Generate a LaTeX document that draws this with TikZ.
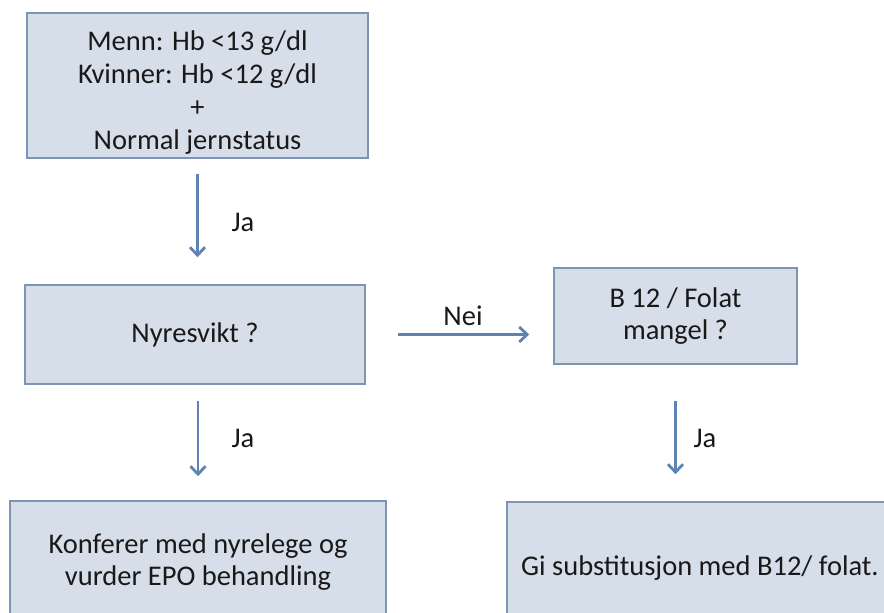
\documentclass[tikz,border=0pt]{standalone}
\usepackage{fontspec}
\setmainfont{Carlito}
\usetikzlibrary{arrows.meta}
\definecolor{boxfill}{RGB}{214,222,234}
\definecolor{boxline}{RGB}{125,148,180}
\definecolor{arrowcol}{RGB}{95,130,180}
\definecolor{txt}{RGB}{25,25,25}
\tikzset{
  flowbox/.style={draw=boxline, line width=1.5pt, fill=boxfill, rectangle, align=center,
    text=txt, font=\fontsize{28.5}{32}\selectfont, inner sep=0pt},
  boxtext/.style={align=center, text=txt, font=\fontsize{28.5}{33}\selectfont, inner sep=0pt},
  flowarrow/.style={draw=arrowcol, line width=2.6pt, -{Straight Barb[length=8pt,width=15pt,line width=2.8pt]}},
  lbl/.style={text=txt, font=\fontsize{28.5}{32}\selectfont, inner sep=0pt}
}
\begin{document}
\begin{tikzpicture}[x=1pt,y=-1pt]
\useasboundingbox (0,0) rectangle (884,613);
\fill[white] (0,0) rectangle (884,613);
\clip (0,0) rectangle (884,613);
\node[flowbox, minimum width=341pt, minimum height=145pt] (top) at (197.5,85.5) {};
\node[boxtext] (toptext) at ([yshift=-7pt]top.center)
  {Menn: Hb <13 g/dl\\Kvinner: Hb <12 g/dl\\+\\Normal jernstatus};
\node[flowbox, minimum width=340pt, minimum height=99pt] (nyre) at (195,334.5) {Nyresvikt ?};
\node[flowbox, minimum width=243pt, minimum height=96pt] (b12) at (675.5,316) {B 12 / Folat\\mangel ?};
\node[flowbox, minimum width=376pt, minimum height=122pt] (bleft) at (198,562)
  {Konferer med nyrelege og\\vurder EPO behandling};
\node[flowbox, minimum width=386pt, minimum height=132pt] (bright) at (700,568)
  {Gi substitusjon med B12/ folat.};
\draw[flowarrow, shorten <=15pt, shorten >=27pt] (top.south) -- (top.south |- nyre.north);
\draw[flowarrow, shorten <=32pt, shorten >=24pt] (nyre.east) -- (nyre.east -| b12.west);
\draw[flowarrow, shorten <=16pt, shorten >=24pt] ([xshift=3pt]nyre.south) -- ([xshift=3pt]nyre.south |- bleft.north);
\draw[flowarrow, shorten <=36pt, shorten >=27pt] (b12.south) -- (b12.south |- bright.north);
\node[lbl] (ja1) at (243,222) {Ja};
\node[lbl] (nei) at (463,316) {Nei};
\node[lbl] (ja2) at (243,438) {Ja};
\node[lbl] (ja3) at (705,438) {Ja};
\end{tikzpicture}
\end{document}
